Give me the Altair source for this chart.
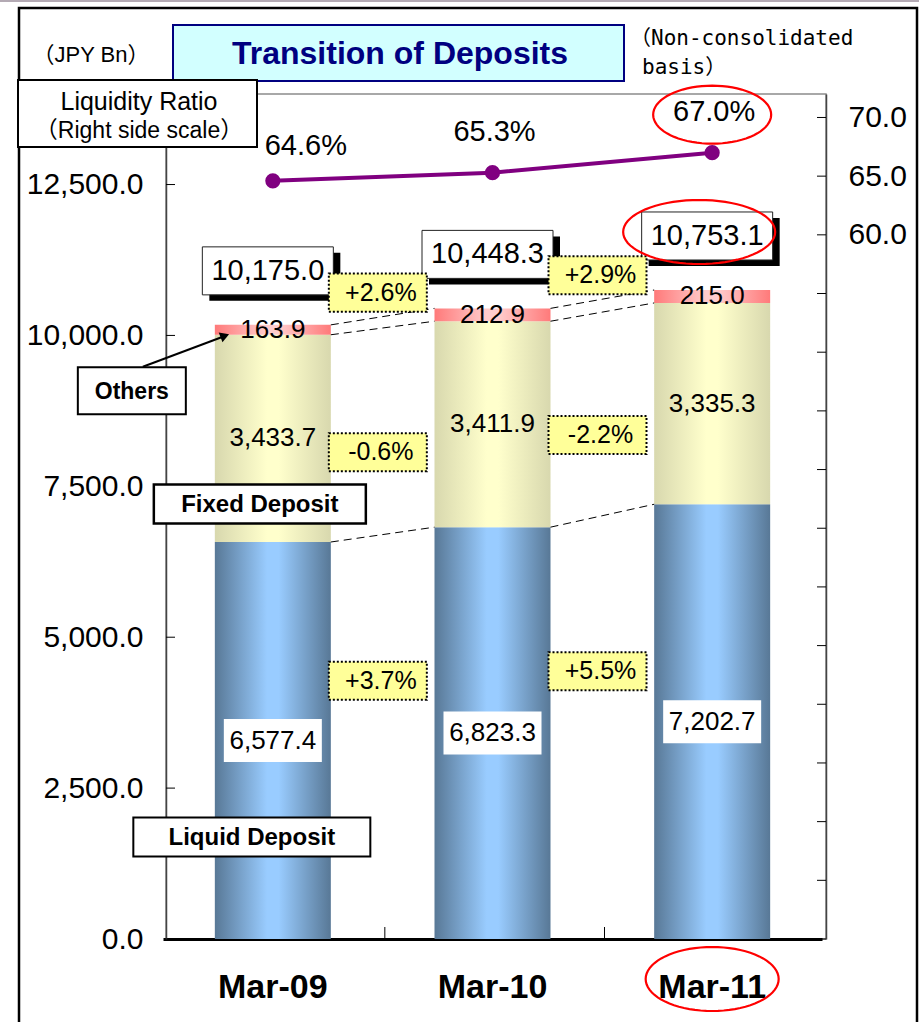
import math
import altair as alt
import pandas as pd

# ---------------- data ----------------
periods = ["Mar-09", "Mar-10", "Mar-11"]
liquid = [6577.4, 6823.3, 7202.7]
fixed = [3433.7, 3411.9, 3335.3]
others = [163.9, 212.9, 215.0]
totals = [10175.0, 10448.3, 10753.1]
ratio = [64.6, 65.3, 67.0]
chg_liquid = ["+3.7%", "+5.5%"]
chg_fixed = ["-0.6%", "-2.2%"]
chg_others = ["+2.6%", "+2.9%"]
left_ticks = [0, 2500, 5000, 7500, 10000, 12500]
right_ticks = [0, 5, 10, 15, 20, 25, 30, 35, 40, 45, 50, 55, 60, 65, 70]
right_labels = [60, 65, 70]
left_domain = [0, 14000]
right_domain = [0, 72]

FONT = "Liberation Sans"
CJK = "Liberation Sans, Noto Sans CJK JP"
MONO = "DejaVu Sans Mono, Noto Sans CJK JP"

# ---------------- helpers ----------------
XS = alt.Scale(domain=periods, range=[-3, 656], paddingInner=0, paddingOuter=0)
AXX = alt.Axis(title=None, labelAngle=0, labelFont=FONT, labelFontSize=34, labelFontWeight="bold",
               labelColor="black", labelPadding=31, ticks=False, tickSize=0, domainColor="black",
               domainWidth=3, grid=False)
YLS = alt.Scale(domain=left_domain, nice=False, zero=True)
AXL = alt.Axis(title=None, orient="left", values=left_ticks, format=",.1f", labelFont=FONT,
               labelFontSize=30, labelColor="black", labelPadding=23, ticks=False, tickSize=0,
               domainColor="#444444", domainWidth=1.5, grid=False)
YRS = alt.Scale(domain=right_domain, nice=False, zero=True)
AXR = alt.Axis(title=None, orient="right", values=right_labels, format=".1f", labelFont=FONT,
               labelFontSize=30, labelColor="black", labelPadding=22, ticks=False, tickSize=0,
               domainColor="#444444", domainWidth=1.5, grid=False)


def xenc():
    return alt.X("period:N", scale=XS, axis=AXX, sort=periods)


def yL(f):
    return alt.Y(f"{f}:Q", scale=YLS, axis=AXL)


def yR(f):
    return alt.Y(f"{f}:Q", scale=YRS, axis=AXR)


def hgrad(edge, mid):
    return alt.Gradient(gradient="linear", x1=0, x2=1, y1=0, y2=0,
                        stops=[alt.GradientStop(color=edge, offset=0),
                               alt.GradientStop(color=mid, offset=0.45),
                               alt.GradientStop(color=mid, offset=0.55),
                               alt.GradientStop(color=edge, offset=1)])


def box_shape(w, h):
    r = h / w
    return f"M-1,{-r:.4f}L1,{-r:.4f}L1,{r:.4f}L-1,{r:.4f}Z"


def ellipse_shape(w, h, n=72):
    r = h / w
    pts = [(math.cos(2 * math.pi * k / n), r * math.sin(2 * math.pi * k / n)) for k in range(n)]
    return "M" + "L".join(f"{x:.4f},{y:.4f}" for x, y in pts) + "Z"


def box(df, yfield, w, h, fill, dx=0, dy=0, stroke=None, sw=1, dash=None, yenc=yL):
    kw = dict(shape=box_shape(w, h), size=w * w, filled=True, fill=fill, opacity=1,
              xOffset=dx, yOffset=dy)
    if stroke:
        kw.update(stroke=stroke, strokeWidth=sw)
    else:
        kw.update(strokeWidth=0)
    if dash:
        kw["strokeDash"] = dash
    return alt.Chart(df).mark_point(**kw).encode(x=xenc(), y=yenc(yfield))


def txt(df, yfield, size, dx=0, dy=0, weight="normal", color="black", font=FONT, yenc=yL):
    return alt.Chart(df).mark_text(font=font, fontSize=size, fontWeight=weight, color=color,
                                   align="center", baseline="middle", xOffset=dx, yOffset=dy
                                   ).encode(x=xenc(), y=yenc(yfield), text="label:N")


def ellipse(df, yfield, w, h, dx=0, dy=0, yenc=yL):
    return alt.Chart(df).mark_point(shape=ellipse_shape(w, h), size=w * w, filled=False,
                                    color="#ff0000", stroke="#ff0000", strokeWidth=2.2, opacity=1,
                                    xOffset=dx, yOffset=dy).encode(x=xenc(), y=yenc(yfield))


# ---------------- tables ----------------
rows = []
for i, p in enumerate(periods):
    lt = liquid[i]
    ft = lt + fixed[i]
    ot = ft + others[i]
    rows += [
        dict(period=p, seg="liquid", y0=0.0, y1=lt, mid=lt / 2, label=f"{liquid[i]:,.1f}"),
        dict(period=p, seg="fixed", y0=lt, y1=ft, mid=(lt + ft) / 2, label=f"{fixed[i]:,.1f}"),
        dict(period=p, seg="others", y0=ft, y1=ot, mid=(ft + ot) / 2, label=f"{others[i]:,.1f}"),
    ]
seg = pd.DataFrame(rows)
s_liq = seg[seg["seg"] == "liquid"].reset_index(drop=True)
s_fix = seg[seg["seg"] == "fixed"].reset_index(drop=True)
s_oth = seg[seg["seg"] == "others"].reset_index(drop=True)

tops = list(s_oth["y1"])
tot = pd.DataFrame(dict(period=periods, v=tops, label=[f"{t:,.1f}" for t in totals]))

con_rows = []
for i in range(len(periods) - 1):
    for a, b in [(s_liq.y1[i], s_liq.y1[i + 1]), (s_fix.y1[i], s_fix.y1[i + 1]), (tops[i], tops[i + 1])]:
        con_rows.append(dict(period=periods[i], nxt=periods[i + 1], v=a, v2=b))
conn_df = pd.DataFrame(con_rows)


def chg_df(anchors, labels):
    return pd.DataFrame(dict(period=periods[:-1],
                             v=[(anchors[i] + anchors[i + 1]) / 2 for i in range(len(labels))],
                             label=labels))


c_oth = chg_df(tops, chg_others)
c_fix = chg_df(list(s_fix["mid"]), chg_fixed)
c_liq = chg_df(list(s_liq["mid"]), chg_liquid)

rdf = pd.DataFrame(dict(period=periods, r=ratio, label=[f"{r:.1f}%" for r in ratio]))

a09 = pd.DataFrame(dict(period=[periods[0]], ftop=[s_fix.y1[0]], ltop=[s_liq.y1[0]], zero=[0.0]))
last_tot = tot.iloc[[-1]]
last_r = rdf.iloc[[-1]]
last_zero = pd.DataFrame(dict(period=[periods[-1]], zero=[0.0]))

# ---------------- deposit layer ----------------
bar_liq = alt.Chart(s_liq).mark_bar(size=116, color=hgrad("#587896", "#99ccff")).encode(
    x=xenc(), y=yL("y0"), y2=alt.Y2("y1"))
bar_fix = alt.Chart(s_fix).mark_bar(size=116, color=hgrad("#d8d8ae", "#ffffcc")).encode(
    x=xenc(), y=yL("y0"), y2=alt.Y2("y1"))
bar_oth = alt.Chart(s_oth).mark_bar(size=116, color=hgrad("#ff7a7a", "#ffcccc")).encode(
    x=xenc(), y=yL("y0"), y2=alt.Y2("y1"))

conn = alt.Chart(conn_df).mark_rule(color="black", strokeWidth=1, strokeDash=[8, 5],
                                    xOffset=58, x2Offset=-58).encode(
    x=xenc(), x2=alt.X2("nxt"), y=yL("v"), y2=alt.Y2("v2"))

lticks = alt.Chart(pd.DataFrame({"t": left_ticks})).mark_rule(color="black", strokeWidth=1).encode(
    y=yL("t"), x=alt.value(0), x2=alt.value(9))
sep = alt.Chart(pd.DataFrame({"period": periods[:-1]})).mark_rule(
    color="black", strokeWidth=1, xOffset=112).encode(x=xenc(), y=alt.value(833), y2=alt.value(845))

lab_fix = txt(s_fix, "mid", 26)
lab_oth = txt(s_oth, "mid", 26)
liq_box = box(s_liq, "mid", 98, 43, "white")
lab_liq = txt(s_liq, "mid", 26)

tot_shadow = box(tot, "v", 131, 48, "black", dx=2, dy=-48)
tot_box = box(tot, "v", 131, 48, "white", dx=-5, dy=-54, stroke="#222222", sw=1)
tot_lab = txt(tot, "v", 29, dx=-5, dy=-54)

chg_layers = []
for df, dy in [(c_oth, -24), (c_fix, 21), (c_liq, -56)]:
    chg_layers.append(box(df, "v", 98, 38, "#ffff99", dx=105, dy=dy, stroke="black", sw=2, dash=[2, 2]))
    chg_layers.append(txt(df, "v", 25, dx=108, dy=dy))

oth_box = box(a09, "ftop", 108, 47, "white", dx=-141, dy=56, stroke="black", sw=2)
oth_txt = alt.Chart(a09).mark_text(font=FONT, fontSize=23, fontWeight="bold", color="black",
                                   xOffset=-141, yOffset=57).encode(x=xenc(), y=yL("ftop"), text=alt.value("Others"))
arrow = alt.Chart(a09).mark_rule(color="black", strokeWidth=2, xOffset=-130, x2Offset=-50,
                                 yOffset=32, y2Offset=2).encode(x=xenc(), x2=alt.X2("period"),
                                                                y=yL("ftop"), y2=alt.Y2("ftop"))
arrow_head = alt.Chart(a09).mark_point(shape="triangle-right", size=110, filled=True, color="black",
                                       opacity=1, angle=339, xOffset=-48, yOffset=1).encode(
    x=xenc(), y=yL("ftop"))
fix_box = box(a09, "ltop", 212, 39, "white", dx=-13, dy=-38, stroke="black", sw=2.5)
fix_txt = alt.Chart(a09).mark_text(font=FONT, fontSize=24, fontWeight="bold", color="black",
                                   xOffset=-13, yOffset=-37).encode(x=xenc(), y=yL("ltop"), text=alt.value("Fixed Deposit"))
liqd_box = box(a09, "zero", 237, 39, "white", dx=-21, dy=-102, stroke="black", sw=2)
liqd_txt = alt.Chart(a09).mark_text(font=FONT, fontSize=24, fontWeight="bold", color="black",
                                    xOffset=-21, yOffset=-101).encode(x=xenc(), y=yL("zero"), text=alt.value("Liquid Deposit"))

ell_tot = ellipse(last_tot, "v", 152, 64, dx=-13, dy=-58)
ell_cat = ellipse(last_zero, "zero", 133, 64, dx=0, dy=40)

deposits = alt.layer(bar_liq, bar_fix, bar_oth, conn, lticks, sep, lab_fix, lab_oth, liq_box, lab_liq,
                     tot_shadow, tot_box, tot_lab, *chg_layers, oth_box, oth_txt, arrow, arrow_head,
                     fix_box, fix_txt, liqd_box, liqd_txt, ell_tot, ell_cat)

# ---------------- ratio layer ----------------
rline = alt.Chart(rdf).mark_line(color="#800080", strokeWidth=4).encode(x=xenc(), y=yR("r"))
rpts = alt.Chart(rdf).mark_circle(color="#800080", size=230, opacity=1).encode(x=xenc(), y=yR("r"))
rlab_first = txt(rdf.iloc[[0]], "r", 29, dx=33, dy=-35, yenc=yR)
rlab_rest = txt(rdf.iloc[1:], "r", 29, dx=2, dy=-41, yenc=yR)
rticks = alt.Chart(pd.DataFrame({"t": right_ticks})).mark_rule(color="black", strokeWidth=1).encode(
    y=yR("t"), x=alt.value(651), x2=alt.value(660))
ell_r = ellipse(last_r, "r", 118, 58, dx=0, dy=-38, yenc=yR)
ratio_layer = alt.layer(rticks, rline, rpts, rlab_first, rlab_rest, ell_r)

# ---------------- decorations ----------------
one = pd.DataFrame({"k": [0]})


def drect(x, x2, y, y2, **kw):
    return alt.Chart(one).mark_rect(**kw).encode(x=alt.value(x), x2=alt.value(x2), y=alt.value(y), y2=alt.value(y2))


def dtext(s, x, y, size, **kw):
    base = dict(font=FONT, fontSize=size, color="black", align="center", baseline="middle")
    base.update(kw)
    return alt.Chart(one).mark_text(**base).encode(x=alt.value(x), y=alt.value(y), text=alt.value(s))


top_line = alt.Chart(one).mark_rule(color="#b4aab4", strokeWidth=2).encode(
    x=alt.value(-166), x2=alt.value(753), y=alt.value(-93))
frame = drect(-147, 751, -86, 946, fillOpacity=0, stroke="black", strokeWidth=2.5)
title_box = drect(7, 458, -69, -13, fill="#d2ffff", stroke="#000080", strokeWidth=2)
title_txt = dtext("Transition of Deposits", 234, -40, 32, fontWeight="bold", color="#000080")
jpy = dtext("（JPY Bn）", -75, -39, 22, font=CJK)
lr_box = drect(-148, 91, -14, 53, fill="white", stroke="black", strokeWidth=2)
lr_t1 = dtext("Liquidity Ratio", -27, 8, 25)
lr_t2 = dtext("（Right side scale）", -27, 37, 23, font=CJK)
nc1 = dtext("（Non-consolidated", 464, -55, 21, font=MONO, align="left")
nc2 = dtext("basis）", 476, -26, 21, font=MONO, align="left")

decor = alt.layer(top_line, frame, title_box, title_txt, jpy, lr_box, lr_t1, lr_t2, nc1, nc2)

chart = alt.layer(deposits, ratio_layer, decor).resolve_scale(y="independent").properties(
    width=660, height=845,
    padding={"left": 166, "top": 94, "right": 93, "bottom": 83},
    autosize=alt.AutoSizeParams(type="none"),
    background="white",
).configure_view(stroke="#8c8c8c", strokeWidth=1.5)

chart.save("out.html", embed_options={"renderer": "svg", "actions": False})
